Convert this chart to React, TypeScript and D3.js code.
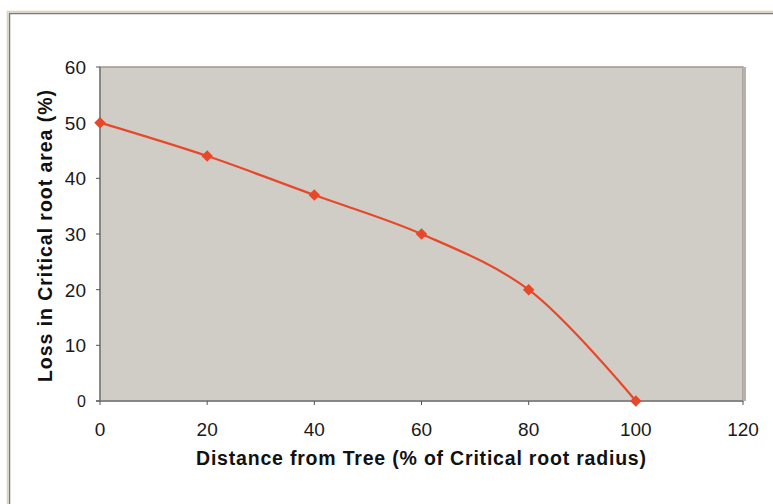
import React from "react";
import * as d3 from "d3";

const distance = [0, 20, 40, 60, 80, 100];
const loss = [50, 44, 37, 30, 20, 0];
const xTicks = [0, 20, 40, 60, 80, 100, 120];
const yTicks = [0, 10, 20, 30, 40, 50, 60];

const W = 773;
const H = 504;
const left = 100;
const right = 743;
const top = 67;
const bottom = 401;

const App = () => {
  const x = d3.scaleLinear().domain([0, 120]).range([left, right]);
  const y = d3.scaleLinear().domain([0, 60]).range([bottom, top]);

  const pts: [number, number][] = distance.map((d, i) => [d, loss[i]]);
  const line = d3
    .line<[number, number]>()
    .x((d) => x(d[0]))
    .y((d) => y(d[1]))
    .curve(d3.curveCatmullRom.alpha(0.5));

  const marker = d3.symbol().type(d3.symbolSquare).size(66)();
  const color = "#e8482a";
  const font = "'Liberation Sans', Arial, sans-serif";

  return (
    <svg
      width={W}
      height={H}
      style={{ position: "absolute", left: 0, top: 0, background: "#fff" }}
    >
      {/* outer frame */}
      <rect x={7.5} y={11.5} width={W + 10} height={H + 10} fill="none" stroke="#e6d2a6" strokeWidth={1.5} />
      <rect x={9.5} y={13.5} width={W + 10} height={H + 10} fill="none" stroke="#7a7a7a" strokeWidth={1.5} />

      {/* plot area */}
      <rect x={left} y={top} width={right - left} height={bottom - top} fill="#d0cdc7" stroke="#9c9894" strokeWidth={1.5} />
      <line x1={right + 1.5} x2={right + 1.5} y1={top} y2={bottom} stroke="#b6b1ab" strokeWidth={3} />

      {/* axes */}
      <line x1={left} x2={left} y1={top} y2={bottom} stroke="#7e7b78" strokeWidth={1.5} />
      <line x1={left - 4} x2={right} y1={bottom} y2={bottom} stroke="#7e7b78" strokeWidth={1.5} />

      {yTicks.map((t) => (
        <g key={"y" + t}>
          <line x1={left - 4} x2={left} y1={y(t)} y2={y(t)} stroke="#555" strokeWidth={1} />
          <text x={86} y={y(t)} dy="0.36em" textAnchor="end" fontFamily={font} fontSize={t === 0 ? 16 : 19} fill="#1a1a1a">
            {t}
          </text>
        </g>
      ))}
      {xTicks.map((t) => (
        <g key={"x" + t}>
          <line x1={x(t)} x2={x(t)} y1={bottom} y2={bottom + 4} stroke="#555" strokeWidth={1} />
          <text x={x(t)} y={436} textAnchor="middle" fontFamily={font} fontSize={19} fill="#1a1a1a">
            {t}
          </text>
        </g>
      ))}

      {/* series */}
      <path d={line(pts) || ""} fill="none" stroke={color} strokeWidth={2.2} />
      {pts.map((p, i) => (
        <path key={i} d={marker || ""} transform={`translate(${x(p[0])},${y(p[1])}) rotate(45)`} fill={color} />
      ))}

      {/* labels */}
      <text
        x={421}
        y={465}
        textAnchor="middle"
        fontFamily={font}
        fontSize={19.5}
        fontWeight="bold"
        fill="#111"
        textLength={450}
        lengthAdjust="spacing"
      >
        Distance from Tree (% of Critical root radius)
      </text>
      <text
        transform="translate(52,236) rotate(-90)"
        textAnchor="middle"
        fontFamily={font}
        fontSize={19.5}
        fontWeight="bold"
        fill="#111"
        textLength={292}
        lengthAdjust="spacing"
      >
        Loss in Critical root area (%)
      </text>
    </svg>
  );
};

export default App;
